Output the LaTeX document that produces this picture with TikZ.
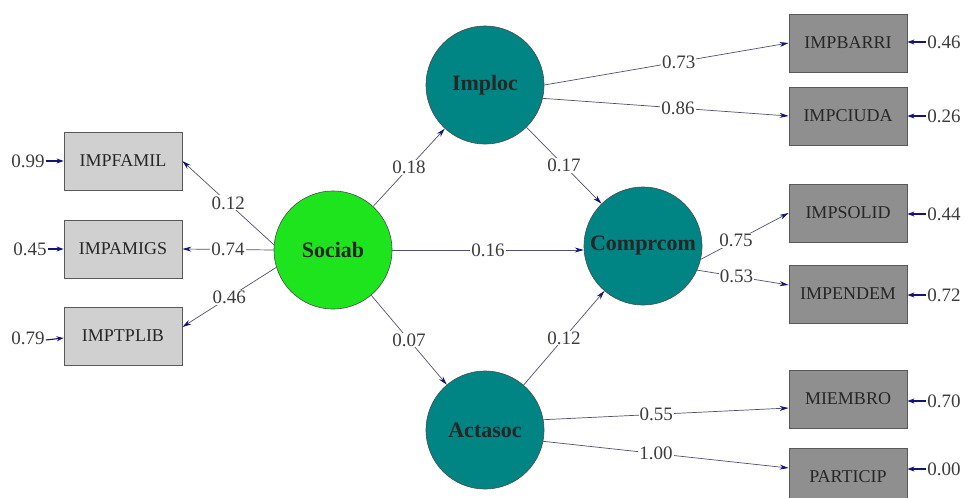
\documentclass[tikz,border=0pt]{standalone}
\usepackage{fontspec}
\setmainfont{Liberation Serif}
\usetikzlibrary{arrows.meta}
\definecolor{greenc}{RGB}{30,228,30}
\definecolor{tealc}{RGB}{0,132,132}
\definecolor{lgray}{RGB}{208,208,208}
\definecolor{dgray}{RGB}{143,143,143}
\definecolor{edgec}{RGB}{80,80,110}
\definecolor{tipc}{RGB}{20,20,120}
\definecolor{numc}{RGB}{60,60,60}
\tikzset{
  latent/.style={circle, draw=black!70, line width=0.6pt, minimum size=118pt, inner sep=0pt,
    font=\fontsize{22}{24}\selectfont\bfseries, text=black!85},
  obsbox/.style={rectangle, draw=black!65, line width=0.8pt, minimum width=118pt, minimum height=58pt,
    inner sep=0pt, font=\fontsize{18}{20}\selectfont, text=black!85},
  obsL/.style={obsbox, fill=lgray},
  obsR/.style={obsbox, fill=dgray},
  errlbl/.style={inner sep=1pt, font=\fontsize{19}{21}\selectfont, text=numc},
  lbl/.style={fill=white, inner sep=1pt, font=\fontsize{19}{21}\selectfont, text=numc},
  pathc/.style={draw=edgec, line width=0.7pt, -{Stealth[length=9pt,width=5pt,color=tipc]}},
  errc/.style={draw=tipc, line width=1.1pt, -{Stealth[length=7pt,width=5pt,color=tipc]}}
}
\begin{document}
\begin{tikzpicture}[x=1pt,y=-1pt]
\useasboundingbox (0,0) rectangle (967,498);
% latent variables
\node[latent, fill=greenc] (sociab) at (333,250) {Sociab};
\node[latent, fill=tealc] (imploc) at (485,85) {Imploc};
\node[latent, fill=tealc] (comprcom) at (643,246) {Comprcom};
\node[latent, fill=tealc] (actasoc) at (485,430) {Actasoc};
% observed left
\node[obsL] (famil) at (123,161) {IMPFAMIL};
\node[obsL] (amigs) at (123,249) {IMPAMIGS};
\node[obsL] (tplib) at (123,336) {IMPTPLIB};
% observed right
\node[obsR] (barri) at (848,43) {IMPBARRI};
\node[obsR] (ciuda) at (848,116) {IMPCIUDA};
\node[obsR] (solid) at (848,213) {IMPSOLID};
\node[obsR] (endem) at (848,294) {IMPENDEM};
\node[obsR] (miembro) at (848,399) {MIEMBRO};
\node[obsR] (particip) at (848,477) {PARTICIP};
% error labels
\node[errlbl] (e1) at (28,161) {0.99};
\node[errlbl] (e2) at (30,249) {0.45};
\node[errlbl] (e3) at (28,338) {0.79};
\node[errlbl] (r1) at (944,42) {0.46};
\node[errlbl] (r2) at (944,116) {0.26};
\node[errlbl] (r3) at (944,214) {0.44};
\node[errlbl] (r4) at (944,295) {0.72};
\node[errlbl] (r5) at (944,401) {0.70};
\node[errlbl] (r6) at (944,469) {0.00};
\draw[errc] (e1) -- (famil);
\draw[errc] (e2) -- (amigs);
\draw[errc] ([yshift=-2pt]e3.east) -- ([yshift=-2pt]tplib.west);
\draw[errc] (r1) -- (r1 -| barri.east);
\draw[errc] (r2) -- (r2 -| ciuda.east);
\draw[errc] (r3) -- (r3 -| solid.east);
\draw[errc] (r4) -- (r4 -| endem.east);
\draw[errc] (r5) -- (r5 -| miembro.east);
\draw[errc] (r6) -- (r6 -| particip.east);
% structural paths
\draw[pathc] (sociab.175) -- node[lbl]{0.12} (famil.east);
\draw[pathc] (sociab.west) -- node[lbl]{0.74} (amigs.east);
\draw[pathc] (sociab.197) -- node[lbl]{0.46} ([yshift=9pt]tplib.east);
\draw[pathc] (sociab) -- node[lbl]{0.18} (imploc);
\draw[pathc] (sociab) -- node[lbl]{0.07} (actasoc);
\draw[pathc] (sociab.east) -- node[lbl]{0.16} (sociab.east -| comprcom.west);
\draw[pathc] (imploc) -- node[lbl]{0.17} (comprcom);
\draw[pathc] (actasoc) -- node[lbl]{0.12} (comprcom);
% measurement paths
\draw[pathc] (imploc.east) -- node[lbl,pos=0.55]{0.73} (barri.west);
\draw[pathc] (imploc.-13) -- node[lbl,pos=0.55]{0.86} (ciuda.west);
\draw[pathc] (comprcom.-13) -- node[lbl,pos=0.4]{0.75} (solid.west);
\draw[pathc] (comprcom.-24) -- node[lbl,pos=0.43]{0.53} ([yshift=9pt]endem.west);
\draw[pathc] (actasoc.10) -- node[lbl,pos=0.46]{0.55} ([yshift=-9pt]miembro.west);
\draw[pathc] (actasoc.-11) -- node[lbl,pos=0.46]{1.00} ([yshift=9pt]particip.west);
\end{tikzpicture}
\end{document}
